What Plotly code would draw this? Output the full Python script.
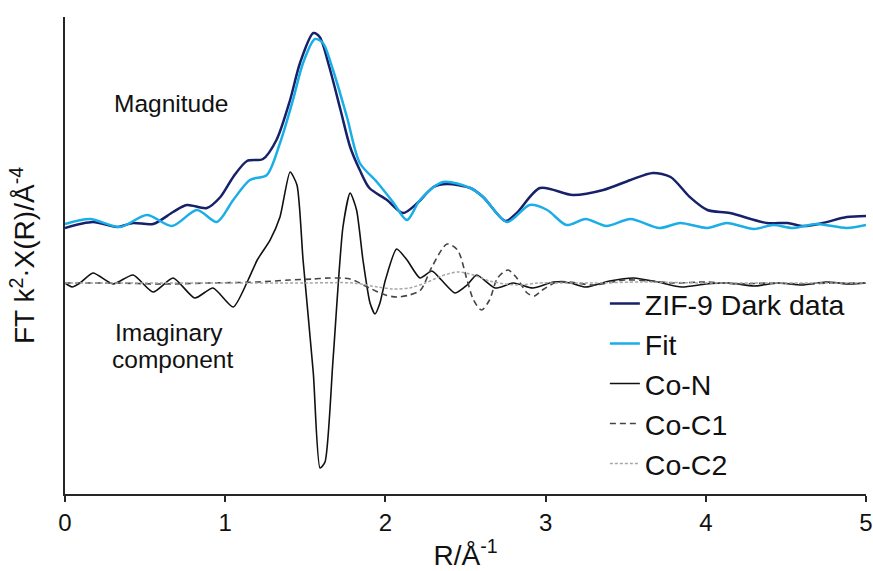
import plotly.graph_objects as go

# ---- Magnitude of the Fourier transform (offset scale, arbitrary units) ----
r_data = [0, 0.175, 0.325, 0.425, 0.55, 0.675, 0.76, 0.885, 0.97, 1.05, 1.136, 1.236,
          1.32, 1.405, 1.467, 1.55, 1.59, 1.65, 1.72, 1.78, 1.84, 1.90, 2.01, 2.11,
          2.20, 2.30, 2.385, 2.53, 2.61, 2.75, 2.82, 2.965, 3.17, 3.36, 3.53, 3.67,
          3.78, 3.90, 4.01, 4.15, 4.38, 4.51, 4.61, 4.73, 4.88, 5.0]
mag_data = [2.66, 2.72, 2.67, 2.71, 2.70, 2.82, 2.89, 2.86, 2.97, 3.17, 3.33, 3.35,
            3.54, 3.94, 4.31, 4.61, 4.57, 4.27, 3.84, 3.47, 3.24, 3.06, 2.94, 2.81,
            2.91, 3.07, 3.10, 3.06, 2.97, 2.73, 2.81, 3.06, 2.99, 3.04, 3.14, 3.21,
            3.17, 2.97, 2.84, 2.81, 2.71, 2.71, 2.68, 2.71, 2.77, 2.78]

r_fit = [0, 0.156, 0.343, 0.512, 0.668, 0.824, 0.948, 1.05, 1.154, 1.26, 1.342, 1.423,
         1.486, 1.56, 1.61, 1.673, 1.76, 1.84, 1.947, 2.047, 2.135, 2.216, 2.36, 2.53,
         2.61, 2.76, 2.90, 3.01, 3.13, 3.25, 3.38, 3.53, 3.71, 3.84, 4.01, 4.13, 4.30,
         4.42, 4.545, 4.69, 4.88, 5.0]
mag_fit = [2.70, 2.75, 2.67, 2.79, 2.68, 2.84, 2.72, 2.94, 3.14, 3.19, 3.51, 3.94,
           4.31, 4.55, 4.51, 4.24, 3.77, 3.31, 3.12, 2.92, 2.74, 2.94, 3.12, 3.06,
           2.97, 2.72, 2.89, 2.84, 2.69, 2.75, 2.68, 2.75, 2.66, 2.71, 2.66, 2.71,
           2.65, 2.69, 2.66, 2.70, 2.66, 2.69]

# ---- Imaginary components of the single-scattering paths (about zero) ----
IMAG_OFFSET = 2.11

r_con = [0, 0.044, 0.094, 0.175, 0.30, 0.425, 0.55, 0.675, 0.81, 0.924, 1.05, 1.143,
         1.2, 1.28, 1.342, 1.405, 1.448, 1.486, 1.55, 1.592, 1.623, 1.673, 1.735, 1.78,
         1.82, 1.86, 1.904, 1.935, 1.966, 2.0, 2.07, 2.135, 2.216, 2.29, 2.35, 2.435,
         2.51, 2.57, 2.685, 2.80, 2.92, 3.05, 3.155, 3.25, 3.4, 3.55, 3.7, 3.85, 4.0,
         4.15, 4.3, 4.45, 4.6, 4.75, 4.9, 5.0]
im_con = [0, -0.04, 0, 0.10, -0.01, 0.08, -0.09, 0.05, -0.15, -0.05, -0.24, 0.03,
          0.23, 0.43, 0.66, 1.11, 0.98, 0.23, -0.90, -1.85, -1.79, -0.77, 0.56, 0.90,
          0.73, 0.23, -0.20, -0.31, -0.20, 0.03, 0.34, 0.23, 0.05, 0.12, 0.03, -0.10,
          -0.02, 0.08, -0.05, 0, -0.05, 0.01, 0, -0.04, 0.02, 0.05, 0.01, -0.04, -0.01,
          0, -0.03, 0, -0.02, 0.01, -0.01, 0]

r_coc1 = [0, 0.3, 0.6, 0.9, 1.2, 1.4, 1.55, 1.65, 1.78, 1.9, 2.0, 2.07, 2.15, 2.22,
          2.29, 2.385, 2.45, 2.51, 2.55, 2.60, 2.65, 2.70, 2.765, 2.82, 2.885, 2.93,
          2.98, 3.07, 3.15, 3.3, 3.5, 3.65, 3.8, 4.0, 4.2, 4.4, 4.6, 4.8, 5.0]
im_coc1 = [0, 0, -0.01, 0, 0.01, 0.03, 0.04, 0.05, 0.04, -0.05, -0.12, -0.14, -0.12,
           -0.07, 0.16, 0.39, 0.33, 0.03, -0.17, -0.27, -0.17, 0.05, 0.13, 0.05, -0.10,
           -0.13, -0.07, 0.01, 0.01, -0.02, 0.03, 0.02, 0, 0.01, -0.01, 0, -0.01, 0, 0]

r_coc2 = [0, 0.5, 1.0, 1.5, 1.8, 1.95, 2.05, 2.15, 2.25, 2.35, 2.45, 2.55, 2.65, 2.75,
          2.85, 2.95, 3.1, 3.3, 3.6, 4.0, 4.5, 5.0]
im_coc2 = [0, 0, 0, 0, 0, -0.04, -0.06, -0.05, 0, 0.07, 0.11, 0.08, 0.02, -0.01,
           -0.02, 0, 0, 0, 0.01, 0, 0, 0]

x_ticks = [0, 1, 2, 3, 4, 5]

FONT = "Liberation Sans, Arial, sans-serif"

fig = go.Figure()
fig.add_trace(go.Scatter(x=r_data, y=mag_data, mode="lines", name="ZIF-9 Dark data",
                         line=dict(color="#16216a", width=2.5, shape="spline", smoothing=0.8)))
fig.add_trace(go.Scatter(x=r_fit, y=mag_fit, mode="lines", name="Fit",
                         line=dict(color="#1aaee8", width=2.5, shape="spline", smoothing=0.8)))
fig.add_trace(go.Scatter(x=r_con, y=[v + IMAG_OFFSET for v in im_con], mode="lines",
                         name="Co-N",
                         line=dict(color="#111111", width=1.6, shape="spline", smoothing=0.6)))
fig.add_trace(go.Scatter(x=r_coc1, y=[v + IMAG_OFFSET for v in im_coc1], mode="lines",
                         name="Co-C1",
                         line=dict(color="#444444", width=1.6, dash="6px,4px",
                                   shape="spline", smoothing=0.8)))
fig.add_trace(go.Scatter(x=r_coc2, y=[v + IMAG_OFFSET for v in im_coc2], mode="lines",
                         name="Co-C2",
                         line=dict(color="#a6a6a6", width=1.5, dash="3px,2px",
                                   shape="spline", smoothing=0.8)))

# text labels for the two groups of curves
for label, xp, yp in [("Magnitude", 0.132, 0.818),
                      ("Imaginary", 0.13, 0.338),
                      ("component", 0.134, 0.281)]:
    fig.add_annotation(text=label, x=xp, y=yp, xref="paper", yref="paper",
                       xanchor="center", yanchor="middle", showarrow=False,
                       font=dict(size=24.5, color="#111111", family=FONT))

fig.update_layout(
    width=873, height=571,
    margin=dict(l=65, r=7, t=17, b=77, autoexpand=False),
    paper_bgcolor="white", plot_bgcolor="white",
    font=dict(family=FONT, color="#111111"),
    showlegend=True,
    legend=dict(x=0.674, y=0.452, xanchor="left", yanchor="top",
                font=dict(size=28.5, family=FONT, color="#111111"),
                bgcolor="rgba(0,0,0,0)", borderwidth=0),
    xaxis=dict(range=[0, 5], tickvals=x_ticks, ticktext=[str(t) for t in x_ticks],
               automargin=False,
               showline=True, linecolor="#262626", linewidth=1.5,
               ticks="outside", ticklen=6, tickwidth=1.5, tickcolor="#262626",
               tickfont=dict(size=24, family=FONT, color="#111111"),
               showgrid=False, zeroline=False,
               title=dict(text="R/Å<sup>-1</sup>", font=dict(size=28, family=FONT),
                          standoff=17)),
    yaxis=dict(range=[0, 4.77], automargin=False,
               showline=True, linecolor="#262626", linewidth=1.5,
               showticklabels=False, ticks="", showgrid=False, zeroline=False,
               title=dict(text="FT k<sup>2</sup>·Χ(R)/Å<sup>-4</sup>",
                          font=dict(size=28, family=FONT), standoff=20)),
)

fig.write_html("out.html")
